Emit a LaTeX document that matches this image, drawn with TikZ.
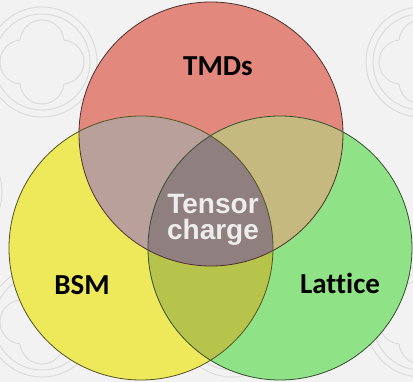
\documentclass[tikz,border=0pt]{standalone}
\usepackage{fontspec}
\newfontfamily\labelfont[Ligatures=NoCommon]{Carlito}
\newfontfamily\chargefont{Liberation Sans}
\definecolor{bgcol}{HTML}{F2F2F2}
\definecolor{ornament}{HTML}{DADADA}
\definecolor{tmdcol}{HTML}{E2887D}
\definecolor{bsmcol}{HTML}{EDE95B}
\definecolor{latcol}{HTML}{8FE285}
\definecolor{tmdbsm}{HTML}{BAA09B}
\definecolor{tmdlat}{HTML}{C5B97F}
\definecolor{bsmlat}{HTML}{B6C44C}
\definecolor{allcol}{HTML}{8F7F7F}
\newcommand\vennr{132}

\begin{document}
\begin{tikzpicture}[x=1pt, y=-1pt,
    rosette/.style={draw=ornament, line width=0.9pt},
    rim/.style={line width=0.8pt},
    lbl/.style={font=\labelfont\bfseries\fontsize{29}{29}\selectfont},
    centre/.style={font=\chargefont\bfseries\fontsize{28}{26}\selectfont,
        text=white!93!black, align=center}]
    \useasboundingbox (0,0) rectangle (413,382);
    \fill[bgcol] (0,0) rectangle (413,382);
    \begin{scope}
        \clip (0,0) rectangle (413,382);
        \foreach \x/\y in {42/62, 232/62, 421/62, -53/192, 137/192, 327/192,
            516/192, 42/322, 232/322, 421/322}{
            \draw[rosette] (\x,\y) circle (48) (\x,\y) circle (55);
            \foreach \a in {0,90,180,270}
            \draw[rosette] ([shift={(\a:20)}]\x,\y) ++(\a-85:22)
                arc[start angle=\a-85, end angle=\a+85, radius=22];
        }
    \end{scope}
    \coordinate (tmd) at (211,134);
    \coordinate (bsm) at (141,248);
    \coordinate (lat) at (280,248);
    \fill[tmdcol] (tmd) circle (\vennr);
    \fill[bsmcol] (bsm) circle (\vennr);
    \fill[latcol] (lat) circle (\vennr);
    \begin{scope}
        \clip (bsm) circle (\vennr);
        \fill[bsmlat] (lat) circle (\vennr);
    \end{scope}
    \begin{scope}
        \clip (tmd) circle (\vennr);
        \fill[tmdbsm] (bsm) circle (\vennr);
        \fill[tmdlat] (lat) circle (\vennr);
        \clip (bsm) circle (\vennr);
        \fill[allcol] (lat) circle (\vennr);
    \end{scope}
    \draw[rim, tmdcol!35!black] (tmd) circle (\vennr);
    \draw[rim, bsmcol!35!black] (bsm) circle (\vennr);
    \draw[rim, latcol!35!black] (lat) circle (\vennr);
    \node[lbl] (tmdlabel) at (218,66) {TMDs};
    \node[lbl] (bsmlabel) at (82,285) {BSM};
    \node[lbl] (latlabel) at (340,283) {Lattice};
    \node[centre] (tensor) at (213,220) {Tensor\\charge};
\end{tikzpicture}
\end{document}
